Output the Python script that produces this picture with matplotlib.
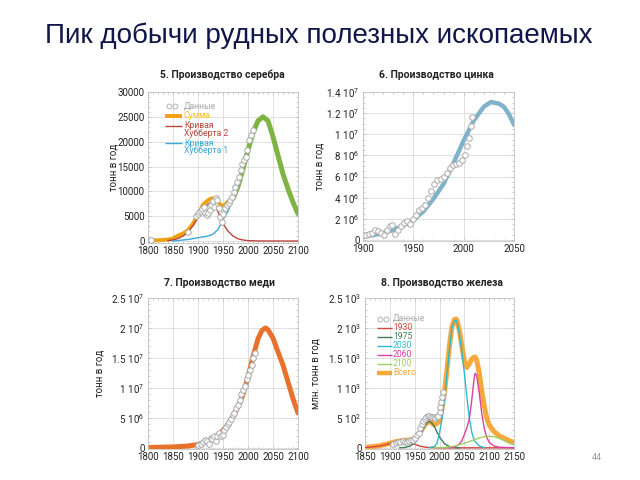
import matplotlib
matplotlib.use('Agg')
import matplotlib.pyplot as plt
from matplotlib.ticker import MultipleLocator

plt.rcParams['font.family'] = ['Roboto', 'DejaVu Sans']
plt.rcParams['mathtext.default'] = 'regular'

# ---- silver (t/year)
ag_data_years = [1805, 1880, 1896, 1899, 1902, 1905, 1908, 1911, 1914, 1917, 1920, 1923, 1926, 1929,
                 1932, 1935, 1938, 1941, 1944, 1947, 1950, 1954, 1957, 1961, 1964, 1968, 1971, 1974,
                 1978, 1981, 1985, 1988, 1991, 1995, 1998, 2002, 2005, 2010]
ag_data = [200, 1900, 5000, 5400, 5800, 6000, 6400, 6900, 5600, 5200, 5700, 6300, 7300, 8000,
           6900, 8600, 8200, 6600, 4900, 3900, 5500, 6600, 7200, 7600, 8300, 8900, 9800, 10900,
           11900, 12900, 14300, 15600, 16300, 17000, 18300, 20300, 21300, 22300]
ag_sum_years = [1800, 1820, 1840, 1850, 1860, 1870, 1880, 1890, 1900, 1910, 1920, 1925, 1930,
                1935, 1940, 1945, 1950, 1955, 1960]
ag_sum = [100, 150, 300, 500, 1100, 1500, 2200, 3500, 5300, 7300, 8200, 8500, 8600,
          8400, 7900, 7300, 7100, 7400, 8000]
ag_h2_years = [1840, 1850, 1860, 1870, 1880, 1890, 1900, 1910, 1920, 1925, 1930, 1935, 1940,
               1945, 1950, 1960, 1970, 1980, 1990, 2000, 2020, 2050, 2100]
ag_h2 = [100, 200, 500, 1000, 1800, 3100, 4700, 6300, 7400, 7700, 7600, 7000, 5900,
         4600, 3500, 2000, 1000, 450, 200, 80, 10, 0, 0]
ag_h1_years = [1850, 1860, 1880, 1900, 1920, 1930, 1940, 1947, 1950, 1960, 1970, 1975]
ag_h1 = [0, 100, 300, 650, 1000, 1400, 2300, 3700, 4300, 6000, 8300, 9700]
ag_fc_years = [1970, 1975, 1980, 1990, 2000, 2010, 2020, 2030, 2040, 2050, 2060, 2070, 2080,
               2090, 2100]
ag_fc = [8600, 9700, 11000, 14500, 18300, 21800, 24200, 25000, 24200, 21000, 17200, 13500, 10500,
         7800, 5500]

# ---- zinc (1e6 t/year)
zn_years = [1900, 1910, 1920, 1930, 1940, 1950, 1960, 1970, 1980, 1990, 2000, 2010, 2020, 2027,
            2035, 2040, 2045, 2050]
zn_curve = [0.3, 0.45, 0.65, 0.95, 1.35, 1.9, 2.7, 3.9, 5.3, 7.3, 9.4, 11.3, 12.6, 13.05,
            12.9, 12.6, 11.9, 10.9]
zn_data_years = [1900, 1903, 1906, 1909, 1912, 1915, 1918, 1921, 1924, 1927, 1929, 1932, 1935,
                 1938, 1941, 1944, 1947, 1950, 1953, 1956, 1959, 1962, 1965, 1968, 1971, 1974,
                 1977, 1980, 1983, 1986, 1989, 1992, 1995, 1998, 2001, 2003, 2005, 2007, 2008]
zn_data = [0.45, 0.5, 0.6, 0.65, 0.9, 0.8, 0.7, 0.5, 0.95, 1.3, 1.4, 0.6, 0.95,
           1.3, 1.6, 1.8, 1.5, 2.0, 2.4, 2.8, 3.0, 3.3, 4.0, 4.6, 5.3, 5.7,
           5.8, 6.0, 6.3, 6.8, 7.1, 7.2, 7.3, 7.6, 8.0, 8.9, 9.6, 10.8, 11.6]

# ---- copper (1e6 t/year)
cu_years = [1800, 1850, 1880, 1900, 1910, 1920, 1930, 1940, 1950, 1960, 1970, 1980, 1990, 2000,
            2010, 2020, 2028, 2035, 2040, 2050, 2060, 2070, 2080, 2090, 2100]
cu_curve = [0.05, 0.15, 0.3, 0.55, 0.8, 1.1, 1.5, 2.1, 2.9, 3.9, 5.3, 6.8, 8.9, 11.8,
            15.2, 18.2, 19.6, 20.0, 19.7, 18.3, 16.0, 13.8, 11.0, 8.2, 5.8]
cu_data_years = [1900, 1905, 1910, 1914, 1918, 1921, 1925, 1928, 1931, 1935, 1938, 1942, 1945,
                 1949, 1952, 1956, 1959, 1962, 1966, 1969, 1972, 1976, 1979, 1983, 1986, 1990,
                 1993, 1997, 2000, 2003, 2007, 2010, 2013]
cu_data = [0.5, 0.6, 0.9, 1.3, 1.1, 0.6, 1.7, 1.5, 1.9, 1.1, 2.0, 2.5, 2.0,
           2.2, 3.0, 3.4, 3.9, 4.3, 4.8, 5.5, 5.8, 6.7, 7.2, 8.0, 8.9, 9.7,
           10.3, 11.4, 12.2, 13.0, 13.9, 15.0, 15.8]

# ---- iron (Mt/year)
fe_1930_years = [1850, 1860, 1870, 1880, 1890, 1900, 1910, 1920, 1930, 1940, 1950, 1960, 1970,
                 1980, 1990, 2000, 2150]
fe_1930 = [5, 10, 20, 30, 50, 70, 95, 110, 115, 95, 60, 30, 12, 5, 2, 0, 0]
fe_1975_years = [1920, 1930, 1940, 1950, 1955, 1960, 1965, 1970, 1975, 1980, 1985, 1990, 1995,
                 2000, 2010, 2020, 2030, 2040]
fe_1975 = [0, 5, 25, 80, 130, 200, 280, 360, 420, 440, 410, 350, 260, 180, 70, 20, 5, 0]
fe_2030_years = [1980, 1990, 1995, 2000, 2005, 2010, 2015, 2020, 2025, 2030, 2033, 2035, 2040,
                 2045, 2050, 2055, 2060, 2065, 2070, 2080, 2090]
fe_2030 = [5, 20, 80, 250, 480, 800, 1220, 1650, 2000, 2120, 2130, 2100, 1900,
           1600, 1250, 850, 500, 260, 120, 30, 5]
fe_2060_years = [2020, 2030, 2040, 2045, 2050, 2055, 2060, 2065, 2070, 2072, 2075, 2080, 2085,
                 2090, 2095, 2100, 2110, 2120, 2150]
fe_2060 = [0, 10, 60, 120, 220, 330, 480, 800, 1180, 1245, 1200, 920, 580, 330, 180, 90, 30, 10, 0]
fe_2100_years = [1990, 2000, 2010, 2020, 2030, 2040, 2050, 2060, 2070, 2080, 2090, 2100, 2110,
                 2120, 2130, 2140, 2150]
fe_2100 = [0, 3, 8, 15, 28, 50, 75, 105, 135, 165, 185, 195, 185, 160, 120, 80, 50]
fe_total_years = [1850, 1860, 1870, 1880, 1890, 1900, 1910, 1920, 1930, 1940, 1950, 1960, 1970,
                  1980, 1990, 2000, 2005, 2010, 2015, 2020, 2025, 2030, 2033, 2035, 2040, 2045,
                  2050, 2055, 2060, 2065, 2070, 2072, 2075, 2080, 2085, 2090, 2095, 2100, 2110,
                  2120, 2130, 2140, 2150]
fe_total = [10, 15, 25, 35, 55, 75, 100, 115, 125, 130, 150, 240, 380,
            450, 380, 440, 650, 920, 1300, 1700, 2020, 2140, 2150, 2130, 1960, 1700,
            1450, 1340, 1400, 1480, 1515, 1510, 1460, 1250, 950, 700, 500, 380, 270,
            200, 160, 120, 90]
fe_data_years = [1907, 1912, 1917, 1921, 1926, 1930, 1934, 1938, 1942, 1947, 1951, 1955, 1958,
                 1961, 1964, 1967, 1970, 1973, 1976, 1979, 1982, 1985, 1988, 1991, 1994, 1997,
                 2000, 2002, 2004, 2006, 2008]
fe_data = [70, 80, 90, 105, 110, 100, 105, 120, 130, 135, 165, 210, 250,
           330, 400, 450, 480, 520, 525, 530, 515, 520, 510, 495, 510, 525,
           600, 680, 760, 850, 930]

W, H = 640, 480
fig = plt.figure(figsize=(6.4, 4.8), dpi=100)
fig.patch.set_facecolor('white')


def add_ax(l, t, r, b):
    return fig.add_axes([l / W, 1 - b / H, (r - l) / W, (b - t) / H])


def setup(ax, xlim, ylim, xticks, yticks, ylabels, xminor, yminor, ylabel, ylabel_px, left_px, width_px):
    ax.set_xlim(xlim)
    ax.set_ylim(ylim)
    ax.set_xticks(xticks)
    ax.set_yticks(yticks)
    ax.set_yticklabels(ylabels)
    ax.xaxis.set_minor_locator(MultipleLocator(xminor))
    ax.yaxis.set_minor_locator(MultipleLocator(yminor))
    ax.grid(which='major', color='#dadada', lw=0.6)
    ax.set_axisbelow(True)
    for s in ax.spines.values():
        s.set_color('#c4c4c4')
        s.set_linewidth(0.6)
    ax.tick_params(which='both', direction='in', top=True, right=True, color='#b8b8b8',
                   labelsize=7, labelcolor='#222222', pad=2.5)
    ax.tick_params(which='major', length=2.5, width=0.5)
    ax.tick_params(which='minor', length=1.5, width=0.5)
    ax.set_ylabel(ylabel, fontsize=7, color='#222222')
    ax.yaxis.set_label_coords((ylabel_px - left_px) / width_px, 0.5)


def circles(ax, x, y):
    ax.plot(x, y, ls='none', marker='o', ms=4, mfc='white', mec='#a9a9a9', mew=0.7, zorder=5)


def fp(x, y):
    return x / W, 1 - y / H


def leg_line(x0, x1, y, color, lw):
    fig.add_artist(plt.Line2D([x0 / W, x1 / W], [1 - y / H, 1 - y / H], color=color, lw=lw,
                              solid_capstyle='butt'))


def leg_dots(x0, x1, y):
    fig.add_artist(plt.Line2D([x0 / W, x1 / W], [1 - y / H, 1 - y / H], ls='none', marker='o',
                              ms=3.5, mfc='white', mec='#a9a9a9', mew=0.6))


def leg_text(x, y, s, color):
    fig.text(*fp(x, y), s, color=color, fontsize=6.2, ha='left', va='center', linespacing=0.85)


def sci(m, e):
    return '$' + m + r'\ 10^{' + e + '}$'


# colours
c_ag_sum, c_ag_sum_t = '#f0a20c', '#f4c21a'
c_ag_h2, c_ag_h1, c_ag_fc = '#b9453c', '#3aa9d9', '#7db443'
c_zn = '#80b3c9'
c_cu = '#e8722c'
c_fe = {'1930': '#d9453c', '1975': '#3f7d5b', '2030': '#2cbad3', '2060': '#d8419f',
        '2100': '#9fcf62', 'all': '#f6a83a'}

# ---- 5. silver
ax1 = add_ax(148, 92, 298, 243)
setup(ax1, (1800, 2100), (-400, 30000), range(1800, 2101, 50), range(0, 30001, 5000),
      [str(v) for v in range(0, 30001, 5000)], 10, 1000, 'тонн в год', 119, 148, 150)
ax1.plot(ag_sum_years, ag_sum, color=c_ag_sum, lw=2.8, solid_capstyle='round', zorder=2)
ax1.plot(ag_fc_years, ag_fc, color=c_ag_fc, lw=3.6, solid_capstyle='round', zorder=2)
ax1.plot(ag_h2_years, ag_h2, color=c_ag_h2, lw=1.0, zorder=3)
ax1.plot(ag_h1_years, ag_h1, color=c_ag_h1, lw=1.0, zorder=3)
circles(ax1, ag_data_years, ag_data)
fig.text(*fp(222, 75), '5. Производство серебра', fontsize=7.5, fontweight='bold',
         ha='center', va='center', color='#222222')
leg_dots(169, 175, 105.5)
leg_text(184, 105.5, 'Данные', '#a9a9a9')
leg_line(165, 182, 115.5, c_ag_sum, 2.8)
leg_text(184, 115.5, 'Сумма', c_ag_sum_t)
leg_line(165, 182, 125.5, c_ag_h2, 1.0)
leg_text(184, 129.5, 'Кривая\nХубберта 2', c_ag_h2)
leg_line(165, 182, 143, c_ag_h1, 1.0)
leg_text(184, 147, 'Кривая\nХубберта 1', c_ag_h1)

# ---- 6. zinc
ax2 = add_ax(363, 92, 514, 241)
zn_ticks = [0, 2, 4, 6, 8, 10, 12, 14]
zn_labels = ['0', sci('2', '6'), sci('4', '6'), sci('6', '6'), sci('8', '6'), sci('1', '7'),
             sci('1.2', '7'), sci('1.4', '7')]
setup(ax2, (1900, 2050), (-0.1, 14), [1900, 1950, 2000, 2050], zn_ticks, zn_labels, 10, 0.5,
      'тонн в год', 325, 363, 151)
ax2.plot(zn_years, zn_curve, color=c_zn, lw=3.2, solid_capstyle='round', zorder=2)
circles(ax2, zn_data_years, zn_data)
fig.text(*fp(436, 75), '6. Производство цинка', fontsize=7.5, fontweight='bold',
         ha='center', va='center', color='#222222')

# ---- 7. copper
ax3 = add_ax(148, 298, 298, 449)
cu_ticks = [0, 5, 10, 15, 20, 25]
cu_labels = ['0', sci('5', '6'), sci('1', '7'), sci('1.5', '7'), sci('2', '7'), sci('2.5', '7')]
setup(ax3, (1800, 2100), (-0.2, 25), range(1800, 2101, 50), cu_ticks, cu_labels, 10, 1,
      'тонн в год', 104, 148, 150)
ax3.plot(cu_years, cu_curve, color=c_cu, lw=3.6, solid_capstyle='round', zorder=2)
circles(ax3, cu_data_years, cu_data)
fig.text(*fp(219, 283), '7. Производство меди', fontsize=7.5, fontweight='bold',
         ha='center', va='center', color='#222222')

# ---- 8. iron
ax4 = add_ax(365, 298, 514, 449)
fe_ticks = [0, 500, 1000, 1500, 2000, 2500]
fe_labels = ['0', sci('5', '2'), sci('1', '3'), sci('1.5', '3'), sci('2', '3'), sci('2.5', '3')]
setup(ax4, (1850, 2150), (-20, 2500), range(1850, 2151, 50), fe_ticks, fe_labels, 10, 100,
      'млн. тонн в год', 320, 365, 149)
ax4.plot(fe_total_years, fe_total, color=c_fe['all'], lw=3.6, solid_capstyle='round', zorder=2)
ax4.plot(fe_1930_years, fe_1930, color=c_fe['1930'], lw=1.0, zorder=3)
ax4.plot(fe_1975_years, fe_1975, color=c_fe['1975'], lw=1.0, zorder=3)
ax4.plot(fe_2030_years, fe_2030, color=c_fe['2030'], lw=1.0, zorder=3)
ax4.plot(fe_2060_years, fe_2060, color=c_fe['2060'], lw=1.0, zorder=3)
ax4.plot(fe_2100_years, fe_2100, color=c_fe['2100'], lw=1.0, zorder=3)
circles(ax4, fe_data_years, fe_data)
fig.text(*fp(442, 283), '8. Производство железа', fontsize=7.5, fontweight='bold',
         ha='center', va='center', color='#222222')
leg_dots(380, 386, 318.5)
leg_text(393, 318.5, 'Данные', '#a9a9a9')
fe_rows = [('1930', 327.5), ('1975', 336.5), ('2030', 345.5), ('2060', 354.5), ('2100', 363.5)]
for key, yy in fe_rows:
    leg_line(377, 392, yy, c_fe[key], 1.0)
    leg_text(393, yy, key, c_fe[key])
leg_line(377, 392, 372.5, c_fe['all'], 3.2)
leg_text(393, 372.5, 'Всего', c_fe['all'])

# slide title and page number
fig.text(*fp(45, 43.3), 'Пик добычи рудных полезных ископаемых', fontsize=20,
         family=['Liberation Sans', 'DejaVu Sans'], color='#10164a', ha='left', va='baseline')
fig.text(*fp(597, 457), '44', fontsize=6.5, color='#9a9a9a', ha='center', va='center')

fig.savefig('out.png', dpi=100, facecolor='white')
